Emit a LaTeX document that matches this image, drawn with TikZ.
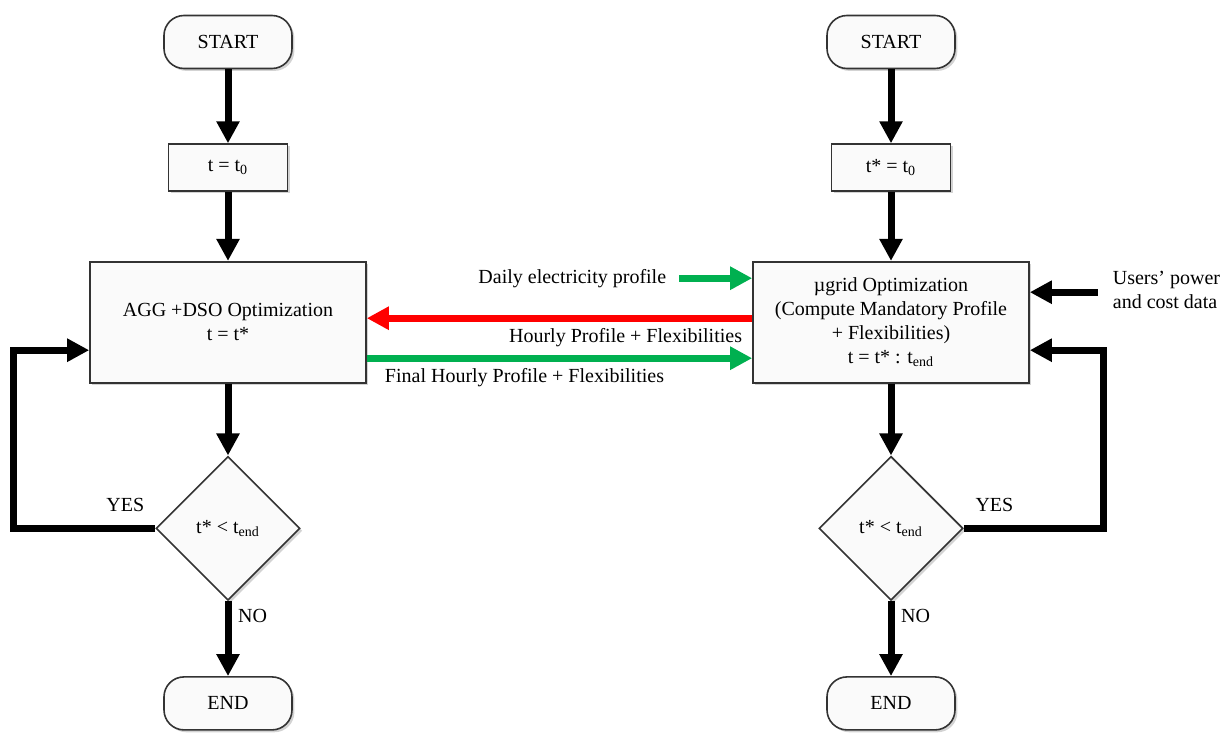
\documentclass[tikz,border=0pt]{standalone}
\usepackage{fontspec}
\setmainfont{Liberation Serif}
\usepackage{tikz}
\usetikzlibrary{positioning, arrows.meta, shapes.geometric, shadows}
\definecolor{okgreen}{RGB}{0,176,80}
\tikzset{
  base/.style={draw=black!80, line width=0.8pt, fill=gray!4, align=center,
               drop shadow={opacity=0.35, shadow xshift=1.2pt, shadow yshift=-1.2pt}},
  term/.style={base, rounded corners=10pt, minimum width=64pt, minimum height=26.5pt},
  proc/.style={base, minimum width=59.5pt, minimum height=23.5pt},
  opt/.style={base, minimum width=138pt, minimum height=60.5pt},
  test/.style={base, diamond, aspect=1, minimum size=72pt, inner sep=0pt},
  flow/.style={-{Triangle[length=11pt, width=11pt]}, line width=3.5pt},
  flowgreen/.style={flow, okgreen},
  flowred/.style={flow, red},
  lbl/.style={align=left, text=black}
}

\begin{document}
\begin{tikzpicture}
  \useasboundingbox (0,0) rectangle (613.5pt,-366.5pt);
  % aggregator side
  \node[term] (startL) at (114pt,-21pt) {START};
  \node[proc, below=37pt of startL] (initL) {t = t\textsubscript{0}};
  \node[opt, below=34.5pt of initL] (aggL) {AGG +DSO Optimization\\t = t*};
  \node[test, below=36pt of aggL] (testL) {t* {\textless} t\textsubscript{end}};
  \node[term, below=37.5pt of testL] (endL) {END};
  % microgrid side
  \node[term] (startR) at (445.5pt,-21pt) {START};
  \node[proc, below=37pt of startR] (initR) {t* = t\textsubscript{0}};
  \node[opt, below=34.5pt of initR] (optR) {µgrid Optimization\\(Compute Mandatory Profile\\+ Flexibilities)\\t = t* : t\textsubscript{end}};
  \node[test, below=36pt of optR] (testR) {t* {\textless} t\textsubscript{end}};
  \node[term, below=37.5pt of testR] (endR) {END};
  % inputs
  \node[lbl, left=39.5pt of optR.west, yshift=22pt, anchor=east] (daily) {Daily electricity profile};
  \node[lbl, right=38pt of optR.east, yshift=16pt, anchor=west] (users) {Users’ power\\and cost data};
  \coordinate (loopL) at (6.5pt,0);
  \coordinate (loopR) at (551.5pt,0);

  \draw[flow] (startL) -- (initL);
  \draw[flow] (initL) -- (aggL);
  \draw[flow] (aggL) -- (testL);
  \draw[flow] (testL) -- node[lbl, right, pos=0.2] {NO} (endL);
  \draw[flow] (testL.west) -- node[lbl, above=3pt, pos=0.21] {YES} (testL.west -| loopL)
    |- ([yshift=-14pt]aggL.west);

  \draw[flow] (startR) -- (initR);
  \draw[flow] (initR) -- (optR);
  \draw[flow] (optR) -- (testR);
  \draw[flow] (testR) -- node[lbl, right, pos=0.2] {NO} (endR);
  \draw[flow] (testR.east) -- node[lbl, above=3pt, pos=0.22] {YES} (testR.east -| loopR)
    |- ([yshift=-14pt]optR.east);

  \draw[flowgreen, shorten <=3pt] (daily.east) -- (daily.east -| optR.west);
  \draw[flow, shorten <=4pt] ([yshift=-1pt]users.west) -- ([yshift=-1pt]users.west -| optR.east);
  \draw[flowred] ([yshift=2pt]optR.west) -- node[lbl, pos=0, below left] {Hourly Profile + Flexibilities}
    ([yshift=2pt]aggL.east);
  \draw[flowgreen] ([yshift=-18pt]aggL.east) -- node[lbl, pos=0, below right, xshift=4pt] {Final Hourly Profile + Flexibilities}
    ([yshift=-18pt]optR.west);
\end{tikzpicture}
\end{document}
